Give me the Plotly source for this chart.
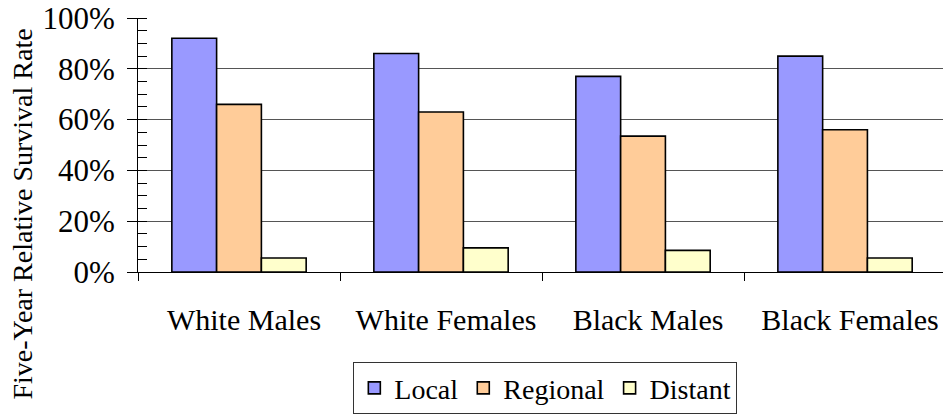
import plotly.graph_objects as go

categories = ["White Males", "White Females", "Black Males", "Black Females"]
local = [92, 86, 77, 85]
regional = [66, 63, 53.5, 56]
distant = [5.5, 9.5, 8.5, 5.5]
series_names = ["Local", "Regional", "Distant"]
colors = ["#9999FF", "#FFCC99", "#FFFFCC"]
y_ticks = [0, 20, 40, 60, 80, 100]

FONT = "Liberation Serif"

fig = go.Figure()
for name, vals, col in zip(series_names, [local, regional, distant], colors):
    fig.add_trace(go.Bar(
        x=categories, y=vals, name=name,
        marker=dict(color=col, line=dict(color="black", width=1.6)),
    ))

fig.update_layout(
    width=943, height=419,
    margin=dict(l=138, r=0, t=18, b=147, autoexpand=False),
    paper_bgcolor="white", plot_bgcolor="white",
    barmode="group", bargap=0.335, bargroupgap=0,
    font=dict(family=FONT, color="black"),
    showlegend=True,
    legend=dict(
        orientation="h", x=0.506, xanchor="center", y=-0.355, yanchor="top",
        font=dict(family=FONT, size=28, color="black"),
        bordercolor="#333", borderwidth=1, bgcolor="white",
        traceorder="normal",
    ),
    xaxis=dict(
        range=[-0.5, 3.485], automargin=False,
        showline=True, linecolor="black", linewidth=1,
        ticks="outside", ticklen=8, tickcolor="black", tickson="boundaries",
        tickfont=dict(family=FONT, size=30, color="black"),
        ticklabelstandoff=21, ticklabelshift=5,
        showgrid=False,
    ),
    yaxis=dict(
        range=[0, 100], automargin=False,
        tickvals=y_ticks, ticktext=[f"{v}%" for v in y_ticks],
        showline=True, linecolor="black", linewidth=1,
        ticks="outside", ticklen=10, tickcolor="black",
        tickfont=dict(family=FONT, size=31, color="black"),
        ticklabelstandoff=6,
        showgrid=True, gridcolor="#555555", gridwidth=1,
        zeroline=False,
        minor=dict(dtick=5, ticks="inside", ticklen=9, tickcolor="black", showgrid=False),
    ),
    annotations=[dict(
        text="Five-Year Relative Survival Rate",
        xref="paper", yref="paper", x=0, y=0.226, xshift=-115,
        xanchor="center", yanchor="middle", textangle=-90, showarrow=False,
        font=dict(family=FONT, size=28, color="black"),
    )],
)

fig.write_html("out.html", config={"displayModeBar": False},
               post_script="document.body.style.margin='0';")
